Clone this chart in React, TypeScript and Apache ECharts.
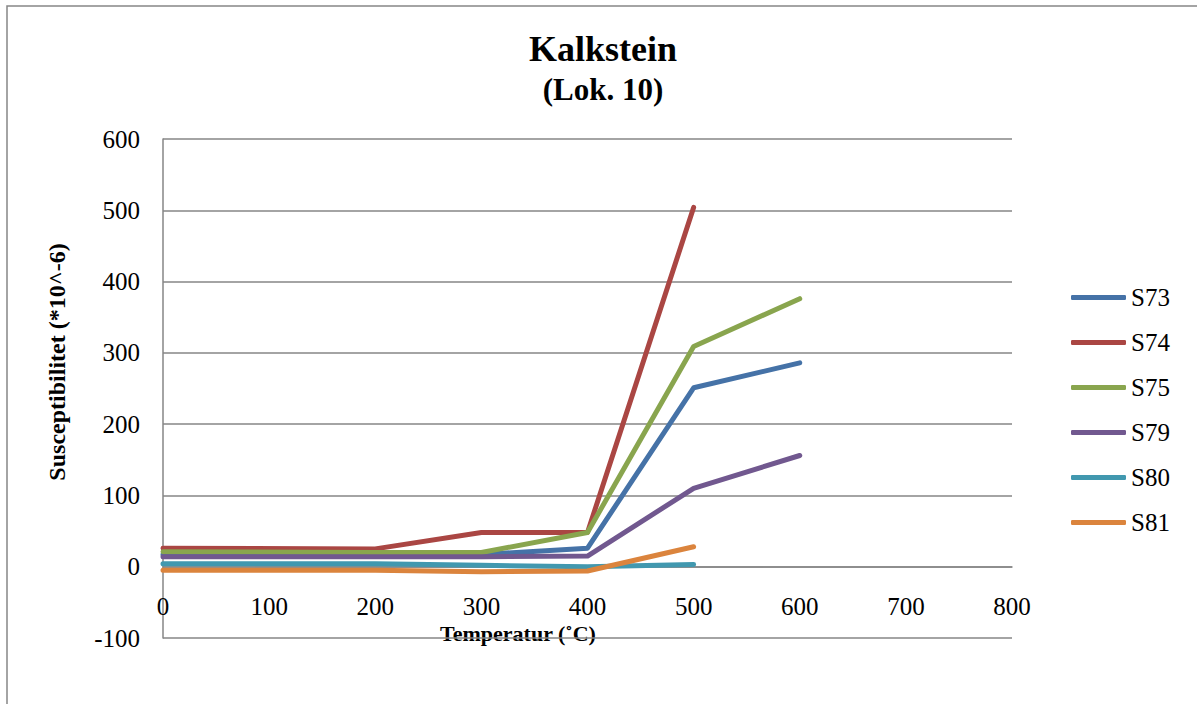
import React, { useEffect, useRef } from "react";
import * as echarts from "echarts";

// Temperature steps (°C) at which susceptibility was measured
const temperatures = [0, 200, 300, 400, 500, 600];

// Susceptibility (*10^-6) per sample; null = not measured
const s73 = [17, 17, 17, 26, 251, 286];
const s74 = [26, 25, 48, 48, 504, null];
const s75 = [21, 20, 20, 48, 309, 376];
const s79 = [14, 14, 14, 15, 110, 156];
const s80 = [4, 4, 2, 0, 3, null];
const s81 = [-5, -5, -7, -6, 28, null];

const seriesNames = ["S73", "S74", "S75", "S79", "S80", "S81"];
const seriesValues = [s73, s74, s75, s79, s80, s81];
const seriesColors = ["#4572A7", "#AA4643", "#89A54E", "#71588F", "#4198AF", "#DB843D"];

const SERIF = "'Liberation Serif', 'Times New Roman', serif";

const GRID_TOP = 139;
const GRID_BOTTOM = 66;
const CHART_H = 704;
const Y_MIN = -100;
const Y_MAX = 600;

export default function App() {
  const ref = useRef<HTMLDivElement>(null);

  useEffect(() => {
    if (!ref.current) return;
    const chart = echarts.init(ref.current, undefined, { renderer: "svg" });

    // lift the temperature axis (line + labels) up to the zero line
    const plotH = CHART_H - GRID_TOP - GRID_BOTTOM;
    const zeroOffset = -(plotH * (0 - Y_MIN)) / (Y_MAX - Y_MIN);

    const series = seriesValues.map((vals, i) => ({
      name: seriesNames[i],
      type: "line",
      symbol: "none",
      color: seriesColors[i],
      lineStyle: { width: 5, color: seriesColors[i], cap: "round", join: "round" },
      data: temperatures
        .map((t, j) => (vals[j] === null ? null : [t, vals[j]]))
        .filter((p) => p !== null),
    }));

    chart.setOption({
      animation: false,
      backgroundColor: "#ffffff",
      grid: { left: 163, top: GRID_TOP, right: 185, bottom: GRID_BOTTOM, containLabel: false },
      xAxis: {
        type: "value",
        min: 0,
        max: 800,
        interval: 100,
        position: "bottom",
        offset: zeroOffset,
        axisLine: { show: true, onZero: false, lineStyle: { color: "#868686", width: 1.5 } },
        axisTick: { show: false },
        splitLine: { show: false },
        axisLabel: { color: "#000", fontFamily: SERIF, fontSize: 25, margin: 27 },
      },
      yAxis: {
        type: "value",
        min: Y_MIN,
        max: Y_MAX,
        interval: 100,
        axisLine: { show: true, lineStyle: { color: "#868686", width: 1.5 } },
        axisTick: { show: false },
        splitLine: { show: true, lineStyle: { color: "#868686", width: 1.5 } },
        axisLabel: { color: "#000", fontFamily: SERIF, fontSize: 25, margin: 23 },
      },
      legend: {
        orient: "vertical",
        left: 1071,
        top: 285,
        padding: 0,
        icon: "roundRect",
        itemWidth: 55,
        itemHeight: 5,
        itemGap: 20,
        textStyle: { color: "#000", fontFamily: SERIF, fontSize: 25 },
        data: seriesNames,
      },
      graphic: [
        {
          type: "rect",
          shape: { x: 7, y: 6, width: 1200, height: 720 },
          style: { fill: "none", stroke: "#868686", lineWidth: 1.5 },
          silent: true,
        },
        {
          type: "text",
          x: 603,
          y: 49,
          style: {
            text: "Kalkstein",
            fill: "#000",
            font: `bold 36px ${SERIF}`,
            align: "center",
            verticalAlign: "middle",
          },
        },
        {
          type: "text",
          x: 603,
          y: 89,
          style: {
            text: "(Lok. 10)",
            fill: "#000",
            font: `bold 31px ${SERIF}`,
            align: "center",
            verticalAlign: "middle",
          },
        },
        {
          type: "text",
          x: 57,
          y: 362,
          rotation: Math.PI / 2,
          style: {
            text: "Susceptibilitet (*10^-6)",
            fill: "#000",
            font: `bold 24px ${SERIF}`,
            align: "center",
            verticalAlign: "middle",
          },
        },
        {
          type: "text",
          x: 518,
          y: 633,
          style: {
            text: "Temperatur (˚C)",
            fill: "#000",
            font: `bold 22px ${SERIF}`,
            align: "center",
            verticalAlign: "middle",
          },
        },
      ],
      series,
    });

    return () => chart.dispose();
  }, []);

  return (
    <div
      ref={ref}
      style={{ position: "absolute", left: 0, top: 0, width: 1197, height: 704 }}
    />
  );
}
